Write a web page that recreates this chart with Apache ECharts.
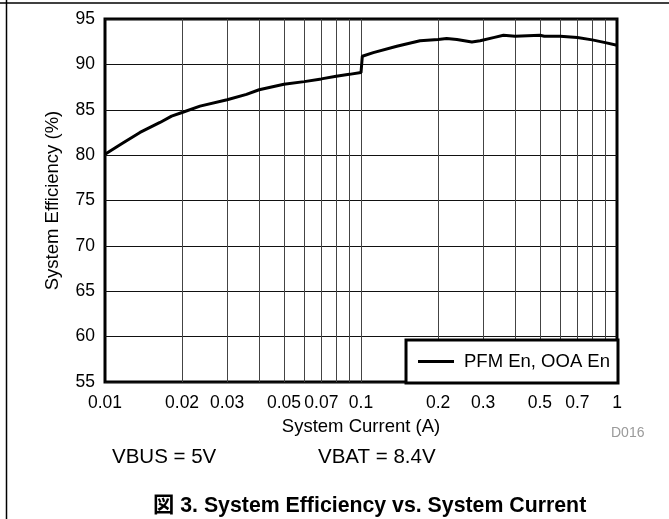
<!DOCTYPE html>
<html>
<head>
<meta charset="utf-8">
<script src="https://cdn.jsdelivr.net/npm/echarts@6/dist/echarts.min.js"></script>
<style>
html,body{margin:0;padding:0;background:#fff;}
#c{width:669px;height:519px;}
</style>
</head>
<body>
<div id="c"></div>
<script>
// ---- data ----
var current = [0.01, 0.0117, 0.0137, 0.0164, 0.0182, 0.02, 0.0235, 0.03, 0.0357, 0.04, 0.05, 0.06, 0.07, 0.08, 0.09, 0.1,
  0.1012, 0.1117, 0.138, 0.17, 0.2, 0.216, 0.237, 0.271, 0.292, 0.329, 0.36, 0.4, 0.5, 0.52, 0.6, 0.7, 0.8, 0.9, 1.0];
var efficiency = [80.1, 81.3, 82.5, 83.6, 84.3, 84.7, 85.4, 86.1, 86.7, 87.2, 87.8, 88.1, 88.4, 88.7, 88.9, 89.1,
  90.9, 91.3, 92.0, 92.6, 92.75, 92.85, 92.75, 92.47, 92.6, 92.95, 93.2, 93.1, 93.2, 93.1, 93.1, 92.95, 92.7, 92.4, 92.1];
var xLabelValues = [0.01, 0.02, 0.03, 0.05, 0.07, 0.1, 0.2, 0.3, 0.5, 0.7, 1];
var xGridValues = [0.02, 0.03, 0.04, 0.05, 0.06, 0.07, 0.08, 0.09, 0.1, 0.2, 0.3, 0.4, 0.5, 0.6, 0.7, 0.8, 0.9];
var seriesName = 'PFM En, OOA En';

var FONT = '"Liberation Sans", Arial, Helvetica, sans-serif';
var chart = echarts.init(document.getElementById('c'), null, {renderer: 'canvas'});

var pts = current.map(function (c, i) { return [c, efficiency[i]]; });

var option = {
  backgroundColor: '#fff',
  animation: false,
  textStyle: {fontFamily: FONT},
  grid: {left: 105, top: 19, width: 512, height: 363, show: true, borderColor: '#000', borderWidth: 3, backgroundColor: 'transparent'},
  legend: {
    data: [{name: seriesName, icon: 'rect'}],
    right: 51, bottom: 136,
    padding: [12, 8, 12, 12],
    itemWidth: 36, itemHeight: 3,
    itemStyle: {color: '#000', borderWidth: 0},
    backgroundColor: '#fff',
    borderColor: '#000', borderWidth: 3, borderRadius: 0,
    textStyle: {fontSize: 18.5, color: '#000', fontFamily: FONT, padding: [0, 0, 0, 5]}
  },
  xAxis: {
    type: 'log', logBase: 10, min: 0.01, max: 1,
    name: 'System Current (A)', nameLocation: 'middle', nameGap: 35,
    nameTextStyle: {fontSize: 18.5, color: '#000', fontFamily: FONT},
    axisLine: {show: false},
    axisTick: {show: false},
    minorTick: {show: false},
    axisLabel: {
      customValues: xLabelValues, fontSize: 17.5, color: '#000', margin: 12, fontFamily: FONT,
      formatter: function (v) { return String(+Number(v).toPrecision(3)); }
    },
    splitLine: {show: false}
  },
  yAxis: {
    type: 'value', min: 55, max: 95, interval: 5,
    name: 'System Efficiency (%)', nameLocation: 'middle', nameGap: 43,
    nameTextStyle: {fontSize: 18.5, color: '#000', fontFamily: FONT},
    axisLine: {show: false},
    axisTick: {show: false},
    axisLabel: {fontSize: 17.5, color: '#000', margin: 10, fontFamily: FONT},
    splitLine: {show: true, lineStyle: {color: '#111', width: 1}}
  },
  series: [{
    name: seriesName,
    type: 'line',
    data: pts,
    symbol: 'none',
    smooth: false,
    lineStyle: {color: '#000', width: 3},
    itemStyle: {color: '#000'},
    z: 3,
    markLine: {
      silent: true,
      symbol: ['none', 'none'],
      label: {show: false},
      animation: false,
      lineStyle: {color: '#444', width: 1, type: 'solid'},
      data: xGridValues.map(function (v) { return {xAxis: v}; }),
      z: 1
    }
  }],
  graphic: [
    {type: 'line', shape: {x1: 0, y1: 3, x2: 669, y2: 3}, style: {stroke: '#000', lineWidth: 1.5}, silent: true},
    {type: 'line', shape: {x1: 6.5, y1: 0, x2: 6.5, y2: 519}, style: {stroke: '#000', lineWidth: 1.5}, silent: true},
    {type: 'text', left: 611, top: 426, style: {text: 'D016', fontSize: 14, fill: '#9a9a9a', fontFamily: FONT}},
    {type: 'text', left: 112, top: 447, style: {text: 'VBUS = 5V', fontSize: 20.5, fill: '#000', fontFamily: FONT}},
    {type: 'text', left: 318, top: 447, style: {text: 'VBAT = 8.4V', fontSize: 20.5, fill: '#000', fontFamily: FONT}},
    {type: 'text', left: 153, top: 495, style: {text: '図 3. System Efficiency vs. System Current', fontSize: 21.3, fontWeight: 'bold', fill: '#000', fontFamily: '"Liberation Sans", Arial, "Noto Sans CJK JP", sans-serif'}}
  ]
};
chart.setOption(option);
</script>
</body>
</html>
